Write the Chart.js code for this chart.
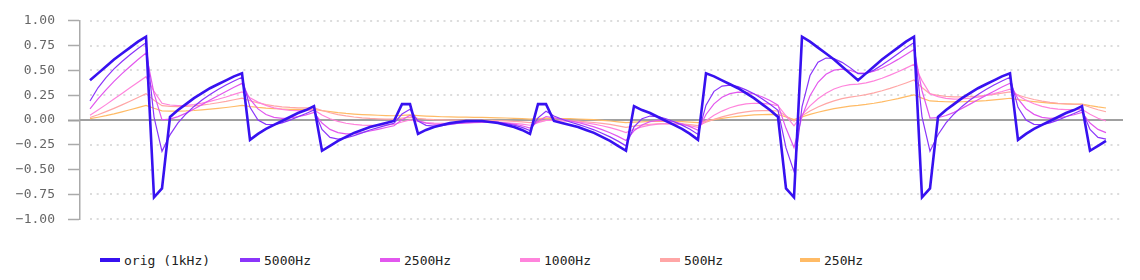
<!DOCTYPE html>
<html>
<head>
<meta charset="utf-8">
<script src="https://cdn.jsdelivr.net/npm/chart.js@4.4.1/dist/chart.umd.min.js"></script>
<style>
  html, body { margin: 0; padding: 0; background: #fff; }
  #wrap { position: relative; width: 1140px; height: 280px; }
  #chartBox { position: absolute; left: 0; top: 0; width: 1140px; height: 240px; }
  #legend { position: absolute; left: 100px; top: 250px; height: 20px; display: flex;
            font-family: "DejaVu Sans Mono", monospace; font-size: 13px; color: #222; }
  #legend .item { width: 140px; display: flex; align-items: center; }
  #legend .box { width: 20px; height: 4px; margin-right: 4px; }
</style>
</head>
<body>
<div id="wrap">
  <div id="chartBox"><canvas id="filterChart" width="1140" height="240"></canvas></div>
  <div id="legend"></div>
</div>
<script>
// series names + colours
const seriesNames = ["orig (1kHz)", "5000Hz", "2500Hz", "1000Hz", "500Hz", "250Hz"];
const seriesColors = ["#3711f0", "#8b35fa", "#e257ee", "#ff84dc", "#ffa6a6", "#ffbb66"];
const yTicks = [-1, -0.75, -0.5, -0.25, 0, 0.25, 0.5, 0.75, 1];

// sample index (48 kHz samples)
const samples = Array.from({ length: 128 }, (_, i) => i);

const orig = [
  0.40, 0.47, 0.54, 0.61, 0.67, 0.73, 0.79, 0.84, -0.78, -0.69,
  0.03, 0.10, 0.16, 0.22, 0.27, 0.32, 0.36, 0.40, 0.44, 0.47,
  -0.20, -0.14, -0.09, -0.05, -0.01, 0.03, 0.07, 0.10, 0.14, -0.31,
  -0.26, -0.21, -0.17, -0.13, -0.10, -0.07, -0.05, -0.03, -0.01, 0.16,
  0.16, -0.14, -0.10, -0.07, -0.05, -0.03, -0.02, -0.01, -0.01, -0.01,
  -0.02, -0.03, -0.05, -0.07, -0.10, -0.14, 0.16, 0.16, -0.01, -0.03,
  -0.05, -0.07, -0.10, -0.13, -0.17, -0.21, -0.26, -0.31, 0.14, 0.10,
  0.07, 0.03, -0.01, -0.05, -0.09, -0.14, -0.20, 0.47, 0.44, 0.40,
  0.36, 0.32, 0.27, 0.22, 0.16, 0.10, 0.03, -0.69, -0.78, 0.84,
  0.79, 0.73, 0.67, 0.61, 0.54, 0.47, 0.40, 0.47, 0.54, 0.61,
  0.67, 0.73, 0.79, 0.84, -0.78, -0.69, 0.03, 0.10, 0.16, 0.22,
  0.27, 0.32, 0.36, 0.40, 0.44, 0.47, -0.20, -0.14, -0.09, -0.05,
  -0.01, 0.03, 0.07, 0.10, 0.14, -0.31, -0.26, -0.21
];

const lp5000 = [
  0.192, 0.325, 0.428, 0.515, 0.590, 0.657, 0.721, 0.778, 0.030, -0.316,
  -0.150, -0.030, 0.061, 0.137, 0.201, 0.258, 0.307, 0.352, 0.394, 0.431,
  0.128, -0.001, -0.044, -0.047, -0.029, -0.001, 0.033, 0.065, 0.101, -0.096,
  -0.175, -0.192, -0.181, -0.157, -0.130, -0.101, -0.077, -0.054, -0.033, 0.060,
  0.108, -0.011, -0.054, -0.062, -0.056, -0.044, -0.032, -0.021, -0.016, -0.013,
  -0.016, -0.023, -0.036, -0.052, -0.075, -0.106, 0.022, 0.088, 0.041, 0.007,
  -0.020, -0.044, -0.071, -0.099, -0.133, -0.170, -0.213, -0.260, -0.068, 0.013,
  0.040, 0.035, 0.013, -0.017, -0.052, -0.094, -0.145, 0.150, 0.289, 0.342,
  0.351, 0.336, 0.304, 0.264, 0.214, 0.159, 0.097, -0.281, -0.520, 0.133,
  0.448, 0.583, 0.625, 0.618, 0.581, 0.528, 0.467, 0.468, 0.503, 0.554,
  0.610, 0.668, 0.727, 0.781, 0.032, -0.315, -0.149, -0.030, 0.061, 0.137,
  0.201, 0.258, 0.307, 0.352, 0.394, 0.431, 0.128, -0.001, -0.044, -0.047,
  -0.029, -0.001, 0.033, 0.065, 0.101, -0.096, -0.175, -0.192
];

const lp2500 = [
  0.112, 0.212, 0.303, 0.389, 0.467, 0.540, 0.610, 0.674, 0.268, 0.001,
  0.009, 0.034, 0.069, 0.111, 0.155, 0.201, 0.245, 0.288, 0.330, 0.369,
  0.210, 0.112, 0.056, 0.026, 0.016, 0.020, 0.034, 0.052, 0.077, -0.031,
  -0.095, -0.127, -0.139, -0.137, -0.127, -0.111, -0.094, -0.076, -0.058, 0.003,
  0.047, -0.005, -0.032, -0.043, -0.045, -0.041, -0.035, -0.028, -0.023, -0.019,
  -0.019, -0.022, -0.030, -0.041, -0.058, -0.081, -0.014, 0.035, 0.022, 0.008,
  -0.008, -0.025, -0.046, -0.069, -0.097, -0.129, -0.165, -0.206, -0.109, -0.051,
  -0.017, -0.004, -0.006, -0.018, -0.038, -0.067, -0.104, 0.056, 0.163, 0.229,
  0.266, 0.281, 0.278, 0.262, 0.234, 0.197, 0.150, -0.084, -0.278, 0.034,
  0.245, 0.380, 0.461, 0.503, 0.513, 0.501, 0.473, 0.472, 0.491, 0.524,
  0.565, 0.611, 0.661, 0.711, 0.295, 0.020, 0.023, 0.045, 0.077, 0.117,
  0.160, 0.205, 0.248, 0.290, 0.332, 0.371, 0.212, 0.114, 0.057, 0.027,
  0.017, 0.021, 0.035, 0.053, 0.077, -0.031, -0.095, -0.127
];

const lp1000 = [
  0.049, 0.101, 0.155, 0.211, 0.267, 0.324, 0.381, 0.437, 0.288, 0.168,
  0.151, 0.145, 0.147, 0.156, 0.170, 0.188, 0.209, 0.232, 0.258, 0.284,
  0.225, 0.180, 0.147, 0.123, 0.107, 0.098, 0.095, 0.096, 0.101, 0.051,
  0.013, -0.014, -0.033, -0.045, -0.052, -0.054, -0.053, -0.050, -0.045, -0.020,
  0.002, -0.015, -0.025, -0.031, -0.033, -0.033, -0.031, -0.028, -0.026, -0.024,
  -0.024, -0.025, -0.028, -0.033, -0.041, -0.053, -0.027, -0.004, -0.005, -0.008,
  -0.013, -0.020, -0.030, -0.042, -0.058, -0.077, -0.100, -0.126, -0.093, -0.069,
  -0.052, -0.042, -0.038, -0.040, -0.046, -0.058, -0.075, -0.008, 0.047, 0.090,
  0.123, 0.147, 0.162, 0.169, 0.168, 0.160, 0.144, 0.042, -0.059, 0.051,
  0.142, 0.214, 0.270, 0.312, 0.340, 0.356, 0.361, 0.374, 0.394, 0.421,
  0.452, 0.486, 0.523, 0.562, 0.397, 0.264, 0.235, 0.218, 0.211, 0.212,
  0.219, 0.231, 0.247, 0.266, 0.287, 0.310, 0.247, 0.200, 0.164, 0.138,
  0.120, 0.109, 0.104, 0.104, 0.108, 0.057, 0.018, -0.010
];

const lp500 = [
  0.025, 0.053, 0.084, 0.117, 0.152, 0.189, 0.227, 0.266, 0.200, 0.144,
  0.137, 0.135, 0.137, 0.142, 0.150, 0.161, 0.174, 0.188, 0.204, 0.221,
  0.194, 0.173, 0.156, 0.143, 0.133, 0.127, 0.123, 0.122, 0.123, 0.096,
  0.073, 0.055, 0.041, 0.030, 0.022, 0.016, 0.012, 0.009, 0.008, 0.018,
  0.027, 0.016, 0.009, 0.004, 0.001, -0.001, -0.002, -0.003, -0.003, -0.003,
  -0.004, -0.006, -0.009, -0.013, -0.018, -0.026, -0.014, -0.003, -0.003, -0.005,
  -0.008, -0.012, -0.018, -0.025, -0.034, -0.045, -0.059, -0.075, -0.061, -0.051,
  -0.043, -0.038, -0.036, -0.037, -0.040, -0.046, -0.056, -0.023, 0.006, 0.031,
  0.052, 0.069, 0.082, 0.091, 0.095, 0.095, 0.091, 0.041, -0.011, 0.043,
  0.090, 0.131, 0.165, 0.193, 0.215, 0.231, 0.242, 0.256, 0.274, 0.295,
  0.319, 0.345, 0.373, 0.403, 0.328, 0.263, 0.248, 0.239, 0.234, 0.233,
  0.235, 0.240, 0.248, 0.258, 0.270, 0.283, 0.252, 0.227, 0.207, 0.191,
  0.178, 0.169, 0.163, 0.159, 0.158, 0.128, 0.103, 0.083
];

const lp250 = [
  0.013, 0.028, 0.044, 0.062, 0.082, 0.103, 0.125, 0.148, 0.118, 0.092,
  0.090, 0.090, 0.092, 0.096, 0.102, 0.109, 0.117, 0.126, 0.136, 0.147,
  0.136, 0.127, 0.120, 0.115, 0.111, 0.108, 0.107, 0.107, 0.108, 0.095,
  0.084, 0.074, 0.066, 0.060, 0.055, 0.051, 0.048, 0.045, 0.043, 0.047,
  0.051, 0.045, 0.040, 0.036, 0.033, 0.031, 0.029, 0.028, 0.027, 0.026,
  0.024, 0.022, 0.020, 0.017, 0.013, 0.008, 0.013, 0.018, 0.017, 0.015,
  0.013, 0.010, 0.007, 0.003, -0.003, -0.010, -0.018, -0.027, -0.022, -0.018,
  -0.015, -0.014, -0.014, -0.015, -0.017, -0.021, -0.027, -0.011, 0.004, 0.017,
  0.028, 0.037, 0.045, 0.051, 0.054, 0.056, 0.055, 0.031, 0.005, 0.032,
  0.056, 0.078, 0.097, 0.114, 0.128, 0.139, 0.147, 0.157, 0.169, 0.183,
  0.199, 0.216, 0.235, 0.254, 0.221, 0.192, 0.187, 0.184, 0.183, 0.184,
  0.187, 0.191, 0.196, 0.203, 0.211, 0.219, 0.205, 0.194, 0.185, 0.177,
  0.171, 0.166, 0.163, 0.161, 0.160, 0.145, 0.132, 0.121
];

const seriesValues = [orig, lp5000, lp2500, lp1000, lp500, lp250];

const datasets = seriesValues.map(function (vals, k) {
  return {
    label: seriesNames[k],
    data: vals.map((v, i) => ({ x: samples[i], y: v })),
    borderColor: seriesColors[k],
    backgroundColor: seriesColors[k],
    borderWidth: k === 0 ? 2.6 : 1.2,
    pointRadius: 0,
    tension: 0,
    fill: false
  };
});

// dotted grid starting at the first sample, solid zero line
const gridPlugin = {
  id: "dottedGrid",
  beforeDatasetsDraw(chart) {
    const { ctx, chartArea, scales } = chart;
    const x0 = scales.x.getPixelForValue(samples[0]);
    ctx.save();
    scales.y.ticks.forEach(function (t) {
      const py = Math.round(scales.y.getPixelForValue(t.value));
      ctx.beginPath();
      if (t.value === 0) {
        ctx.setLineDash([]);
        ctx.strokeStyle = "#a0a0a0";
        ctx.lineWidth = 2;
        ctx.moveTo(chartArea.left, py);
      } else {
        ctx.setLineDash([2, 4.67]);
        ctx.strokeStyle = "#dcdcdc";
        ctx.lineWidth = 2;
        ctx.moveTo(x0, py);
      }
      ctx.lineTo(chartArea.right, py);
      ctx.stroke();
    });
    ctx.restore();
  }
};

new Chart(document.getElementById("filterChart"), {
  type: "line",
  data: { datasets: datasets },
  plugins: [gridPlugin],
  options: {
    responsive: false,
    animation: false,
    layout: { padding: { top: 20, bottom: 20, right: 17, left: 0 } },
    plugins: { legend: { display: false }, tooltip: { enabled: false } },
    scales: {
      x: {
        type: "linear",
        display: false,
        min: -1.25,
        max: 129.125
      },
      y: {
        min: -1,
        max: 1,
        afterFit: function (scale) { scale.width = 80; },
        afterBuildTicks: function (scale) {
          scale.ticks = yTicks.map(v => ({ value: v }));
        },
        border: { display: true, color: "#aaaaaa", width: 1.5 },
        grid: {
          drawOnChartArea: false,
          drawTicks: true,
          tickLength: 12,
          tickColor: ctx => (ctx.tick && ctx.tick.value === 0 ? "#a0a0a0" : "#aaaaaa"),
          tickWidth: ctx => (ctx.tick && ctx.tick.value === 0 ? 2 : 1.5)
        },
        ticks: {
          padding: 13,
          color: "#666666",
          font: { family: "DejaVu Sans Mono", size: 13 },
          callback: v => v.toFixed(2).replace("-", "\u2212")
        }
      }
    }
  }
});

// legend with fixed-width items
const legendEl = document.getElementById("legend");
seriesNames.forEach(function (name, k) {
  const item = document.createElement("div");
  item.className = "item";
  const box = document.createElement("span");
  box.className = "box";
  box.style.background = seriesColors[k];
  const txt = document.createElement("span");
  txt.textContent = name;
  item.appendChild(box);
  item.appendChild(txt);
  legendEl.appendChild(item);
});
</script>
</body>
</html>
